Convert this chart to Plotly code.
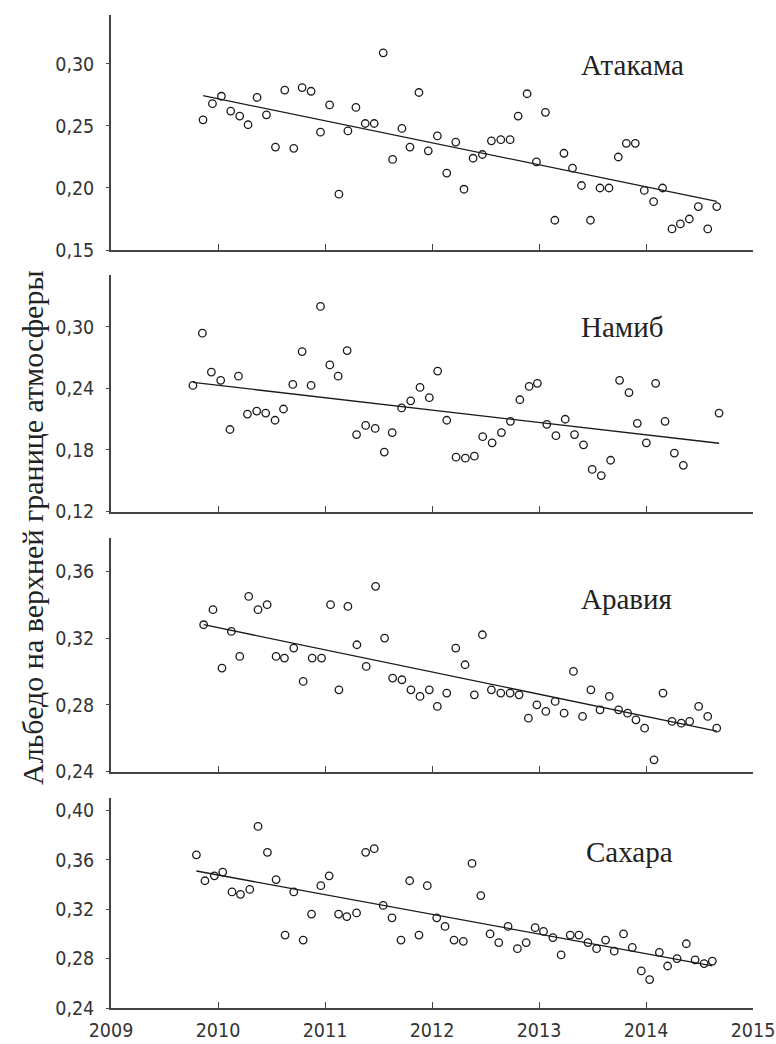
import numpy as np
import plotly.graph_objects as go

# ---------------- data ----------------
atacama_x = [2009.860, 2009.948, 2010.032, 2010.119, 2010.203, 2010.281, 2010.365, 2010.453, 2010.537, 2010.624,
             2010.708, 2010.786, 2010.870, 2010.958, 2011.043, 2011.130, 2011.214, 2011.289, 2011.376, 2011.460,
             2011.544, 2011.632, 2011.719, 2011.794, 2011.878, 2011.965, 2012.050, 2012.138, 2012.222, 2012.299,
             2012.384, 2012.471, 2012.555, 2012.643, 2012.730, 2012.805, 2012.889, 2012.976, 2013.060, 2013.148,
             2013.233, 2013.313, 2013.397, 2013.481, 2013.570, 2013.654, 2013.741, 2013.816, 2013.900, 2013.984,
             2014.071, 2014.155, 2014.243, 2014.321, 2014.405, 2014.489, 2014.577, 2014.661]
atacama_y = [0.255, 0.268, 0.274, 0.262, 0.258, 0.251, 0.273, 0.259, 0.233, 0.279,
             0.232, 0.281, 0.278, 0.245, 0.267, 0.195, 0.246, 0.265, 0.252, 0.252,
             0.309, 0.223, 0.248, 0.233, 0.277, 0.230, 0.242, 0.212, 0.237, 0.199,
             0.224, 0.227, 0.238, 0.239, 0.239, 0.258, 0.276, 0.221, 0.261, 0.174,
             0.228, 0.216, 0.202, 0.174, 0.200, 0.200, 0.225, 0.236, 0.236, 0.198,
             0.189, 0.200, 0.167, 0.171, 0.175, 0.185, 0.167, 0.185]

namib_x = [2009.766, 2009.854, 2009.938, 2010.025, 2010.112, 2010.191, 2010.275, 2010.362, 2010.446, 2010.533,
           2010.612, 2010.699, 2010.786, 2010.870, 2010.958, 2011.045, 2011.123, 2011.207, 2011.295, 2011.380,
           2011.469, 2011.554, 2011.628, 2011.716, 2011.801, 2011.888, 2011.975, 2012.053, 2012.138, 2012.225,
           2012.312, 2012.396, 2012.474, 2012.562, 2012.649, 2012.733, 2012.821, 2012.908, 2012.985, 2013.073,
           2013.158, 2013.245, 2013.332, 2013.416, 2013.497, 2013.582, 2013.669, 2013.753, 2013.841, 2013.919,
           2014.003, 2014.090, 2014.178, 2014.265, 2014.349, 2014.683]
namib_y = [0.243, 0.294, 0.256, 0.248, 0.200, 0.252, 0.215, 0.218, 0.216, 0.209,
           0.220, 0.244, 0.276, 0.243, 0.320, 0.263, 0.252, 0.277, 0.195, 0.204,
           0.201, 0.178, 0.197, 0.221, 0.228, 0.241, 0.231, 0.257, 0.209, 0.173,
           0.172, 0.174, 0.193, 0.187, 0.197, 0.208, 0.229, 0.242, 0.245, 0.205,
           0.194, 0.210, 0.195, 0.185, 0.161, 0.155, 0.170, 0.248, 0.236, 0.206,
           0.187, 0.245, 0.208, 0.177, 0.165, 0.216]

arabia_x = [2009.866, 2009.953, 2010.037, 2010.125, 2010.203, 2010.287, 2010.374, 2010.459, 2010.543, 2010.621,
            2010.708, 2010.796, 2010.880, 2010.968, 2011.052, 2011.130, 2011.214, 2011.298, 2011.385, 2011.473,
            2011.557, 2011.632, 2011.719, 2011.803, 2011.888, 2011.975, 2012.050, 2012.138, 2012.222, 2012.309,
            2012.396, 2012.471, 2012.555, 2012.643, 2012.730, 2012.814, 2012.901, 2012.980, 2013.064, 2013.151,
            2013.235, 2013.322, 2013.407, 2013.485, 2013.570, 2013.657, 2013.744, 2013.828, 2013.906, 2013.987,
            2014.075, 2014.159, 2014.243, 2014.330, 2014.408, 2014.492, 2014.577, 2014.661]
arabia_y = [0.328, 0.337, 0.302, 0.324, 0.309, 0.345, 0.337, 0.340, 0.309, 0.308,
            0.314, 0.294, 0.308, 0.308, 0.340, 0.289, 0.339, 0.316, 0.303, 0.351,
            0.320, 0.296, 0.295, 0.289, 0.285, 0.289, 0.279, 0.287, 0.314, 0.304,
            0.286, 0.322, 0.289, 0.287, 0.287, 0.286, 0.272, 0.280, 0.276, 0.282,
            0.275, 0.300, 0.273, 0.289, 0.277, 0.285, 0.277, 0.275, 0.271, 0.266,
            0.247, 0.287, 0.270, 0.269, 0.270, 0.279, 0.273, 0.266]

sahara_x = [2009.798, 2009.878, 2009.966, 2010.044, 2010.131, 2010.210, 2010.297, 2010.374, 2010.462, 2010.543,
            2010.627, 2010.708, 2010.796, 2010.874, 2010.961, 2011.039, 2011.127, 2011.204, 2011.295, 2011.380,
            2011.460, 2011.544, 2011.626, 2011.710, 2011.791, 2011.878, 2011.956, 2012.044, 2012.122, 2012.206,
            2012.293, 2012.374, 2012.456, 2012.543, 2012.624, 2012.711, 2012.798, 2012.880, 2012.964, 2013.042,
            2013.130, 2013.207, 2013.292, 2013.373, 2013.457, 2013.538, 2013.622, 2013.703, 2013.790, 2013.872,
            2013.956, 2014.034, 2014.125, 2014.202, 2014.290, 2014.377, 2014.459, 2014.543, 2014.620]
sahara_y = [0.364, 0.343, 0.347, 0.350, 0.334, 0.332, 0.336, 0.387, 0.366, 0.344,
            0.299, 0.334, 0.295, 0.316, 0.339, 0.347, 0.316, 0.314, 0.317, 0.366,
            0.369, 0.323, 0.313, 0.295, 0.343, 0.299, 0.339, 0.313, 0.306, 0.295,
            0.294, 0.357, 0.331, 0.300, 0.293, 0.306, 0.288, 0.293, 0.305, 0.302,
            0.297, 0.283, 0.299, 0.299, 0.293, 0.288, 0.295, 0.286, 0.300, 0.289,
            0.270, 0.263, 0.285, 0.274, 0.280, 0.292, 0.279, 0.276, 0.278]

panel_names = ["Атакама", "Намиб", "Аравия", "Сахара"]
year_ticks = [2009, 2010, 2011, 2012, 2013, 2014, 2015]
y_ticks = [[0.15, 0.20, 0.25, 0.30],
           [0.12, 0.18, 0.24, 0.30],
           [0.24, 0.28, 0.32, 0.36],
           [0.24, 0.28, 0.32, 0.36, 0.40]]
y_label = "Альбедо на верхней границе атмосферы"

# ---------------- layout geometry ----------------
W, H = 776, 1044
ML, MR, MT, MB = 111, 23, 15, 36
PW, PH = W - ML - MR, H - MT - MB

def px_x(px):
    return (px - ML) / PW

def px_y(py):
    return (H - MB - py) / PH

panel_px = [(15, 250), (275, 511.5), (538, 771.5), (798, 1008)]   # top, bottom in pixels
y_ranges = [[0.15, 0.3395], [0.12, 0.3507], [0.24, 0.380], [0.24, 0.410]]
title_pos = [(579, 65), (579, 327), (579, 599), (584, 852)]

series = [(atacama_x, atacama_y), (namib_x, namib_y), (arabia_x, arabia_y), (sahara_x, sahara_y)]

tick_font = dict(family="Liberation Sans Narrow, Arial Narrow, DejaVu Sans Condensed, Liberation Sans",
                 size=19.5, color="#333333")
serif = "Liberation Serif, Times New Roman, serif"
axis_col = "#444444"

fig = go.Figure()
layout = dict(width=W, height=H, margin=dict(l=ML, r=MR, t=MT, b=MB, autoexpand=False),
              paper_bgcolor="white", plot_bgcolor="white", showlegend=False,
              separators=", ")

for i, ((xs, ys), name) in enumerate(zip(series, panel_names)):
    suf = "" if i == 0 else str(i + 1)
    fig.add_trace(go.Scatter(x=xs, y=ys, mode="markers",
                             marker=dict(symbol="circle-open", size=7.5, color="#1a1a1a",
                                         line=dict(width=1.3, color="#1a1a1a")),
                             xaxis="x" + suf, yaxis="y" + suf, hoverinfo="skip", cliponaxis=False))
    slope, icpt = np.polyfit(xs, ys, 1)
    xl = [min(xs), max(xs)]
    fig.add_trace(go.Scatter(x=xl, y=[slope * v + icpt for v in xl], mode="lines",
                             line=dict(color="#1a1a1a", width=1.3),
                             xaxis="x" + suf, yaxis="y" + suf, hoverinfo="skip"))
    top, bot = panel_px[i]
    last = (i == 3)
    layout["xaxis" + suf] = dict(domain=[0, 1], range=[2009, 2015], anchor="y" + suf,
                                 tickvals=year_ticks, ticktext=[str(t) for t in year_ticks],
                                 showticklabels=last, ticks="inside", ticklen=6, tickwidth=1.3,
                                 tickcolor=axis_col, showline=True, linecolor=axis_col, linewidth=1.6,
                                 showgrid=False, zeroline=False, tickfont=tick_font,
                                 ticklabelstandoff=4, automargin=False)
    layout["yaxis" + suf] = dict(domain=[px_y(bot), px_y(top)], range=y_ranges[i], anchor="x" + suf,
                                 tickvals=y_ticks[i], tickformat=".2f",
                                 ticks="outside", ticklen=3, tickwidth=1, tickcolor=axis_col,
                                 showline=True, linecolor=axis_col, linewidth=1.6,
                                 showgrid=False, zeroline=False, tickfont=tick_font,
                                 ticklabelstandoff=8, automargin=False)

annotations = []
for (tx, ty), name in zip(title_pos, panel_names):
    annotations.append(dict(text=name, xref="paper", yref="paper", x=px_x(tx), y=px_y(ty),
                            xanchor="left", yanchor="middle", showarrow=False,
                            font=dict(family=serif, size=29, color="#222222")))
annotations.append(dict(text=y_label, xref="paper", yref="paper", x=px_x(32), y=px_y(528),
                        xanchor="center", yanchor="middle", textangle=-90, showarrow=False,
                        font=dict(family=serif, size=30, color="#222222")))
layout["annotations"] = annotations

fig.update_layout(**layout)
fig.write_html("out.html")
